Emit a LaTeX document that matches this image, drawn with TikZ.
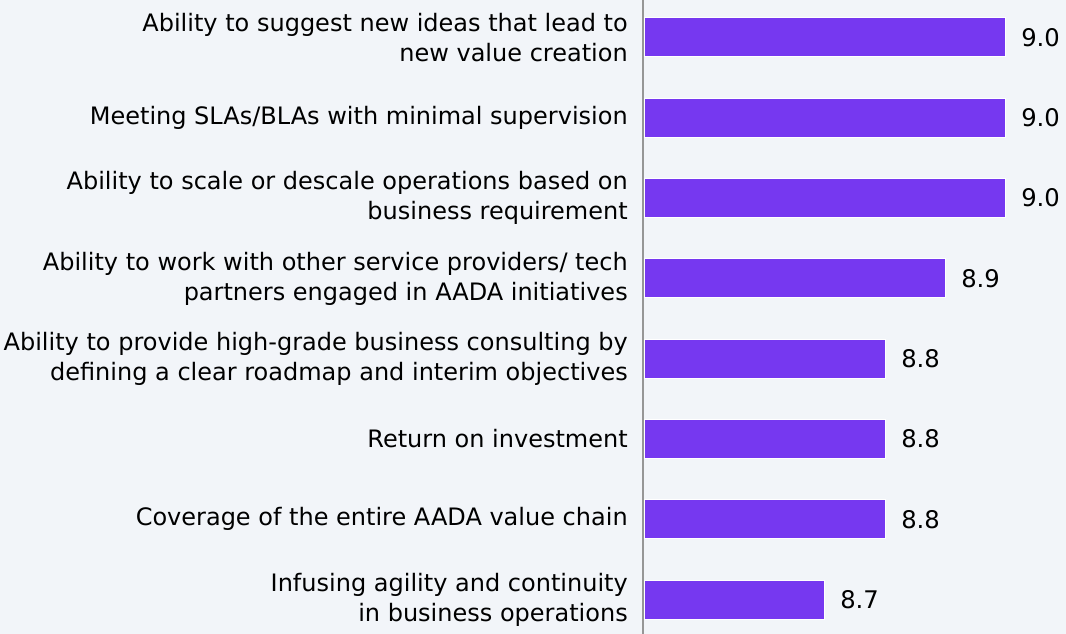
\documentclass[tikz,border=0pt]{standalone}
\usepackage{fontspec}
\setmainfont{DejaVu Sans}
\definecolor{chartBg}{RGB}{242,245,249}
\definecolor{barFill}{RGB}{118,56,240}
\definecolor{axisGrey}{RGB}{150,150,150}
\begin{document}
\begin{tikzpicture}[x=0.75pt, y=-0.75pt,
    labStyle/.style={anchor=east, align=right, inner sep=0pt, font=\fontsize{18}{22.5}\selectfont},
    valStyle/.style={anchor=west, inner sep=0pt, font=\fontsize{18.2}{22.5}\selectfont},
    barStyle/.style={fill=barFill, draw=white, line width=0.75pt}]
    \fill[chartBg] (0,0) rectangle (1066,634);
    \useasboundingbox (0,0) rectangle (1066,634);

    \draw[axisGrey, line width=1.5pt] (643,0) -- (643,634);

    \node[labStyle](lab1) at (628, 37.5) {Ability to suggest new ideas that lead to\\new value creation};
    \node[labStyle](lab2) at (628,117.8) {Meeting SLAs/BLAs with minimal supervision};
    \node[labStyle](lab3) at (628,198.1) {Ability to scale or descale operations based on\\business requirement};
    \node[labStyle](lab4) at (628,278.4) {Ability to work with other service providers/ tech\\partners engaged in AADA initiatives};
    \node[labStyle](lab5) at (628,358.7) {Ability to provide high-grade business consulting by\\defining a clear roadmap and interim objectives};
    \node[labStyle](lab6) at (628,439.0) {Return on investment};
    \node[labStyle](lab7) at (628,519.3) {Coverage of the entire AADA value chain};
    \node[labStyle](lab8) at (628,599.6) {Infusing agility and continuity\\in business operations};

    \draw[barStyle] (644, 18.0) rectangle (1005, 57.0);
    \draw[barStyle] (644, 98.3) rectangle (1005,137.3);
    \draw[barStyle] (644,178.6) rectangle (1005,217.6);
    \draw[barStyle] (644,258.9) rectangle ( 945,297.9);
    \draw[barStyle] (644,339.2) rectangle ( 885,378.2);
    \draw[barStyle] (644,419.5) rectangle ( 885,458.5);
    \draw[barStyle] (644,499.8) rectangle ( 885,538.8);
    \draw[barStyle] (644,580.1) rectangle ( 824,619.1);

    \node[valStyle](val1) at (1021, 37.5) {9.0};
    \node[valStyle](val2) at (1021,117.8) {9.0};
    \node[valStyle](val3) at (1021,198.1) {9.0};
    \node[valStyle](val4) at ( 961,278.4) {8.9};
    \node[valStyle](val5) at ( 901,358.7) {8.8};
    \node[valStyle](val6) at ( 901,439.0) {8.8};
    \node[valStyle](val7) at ( 901,519.3) {8.8};
    \node[valStyle](val8) at ( 840,599.6) {8.7};
\end{tikzpicture}
\end{document}
